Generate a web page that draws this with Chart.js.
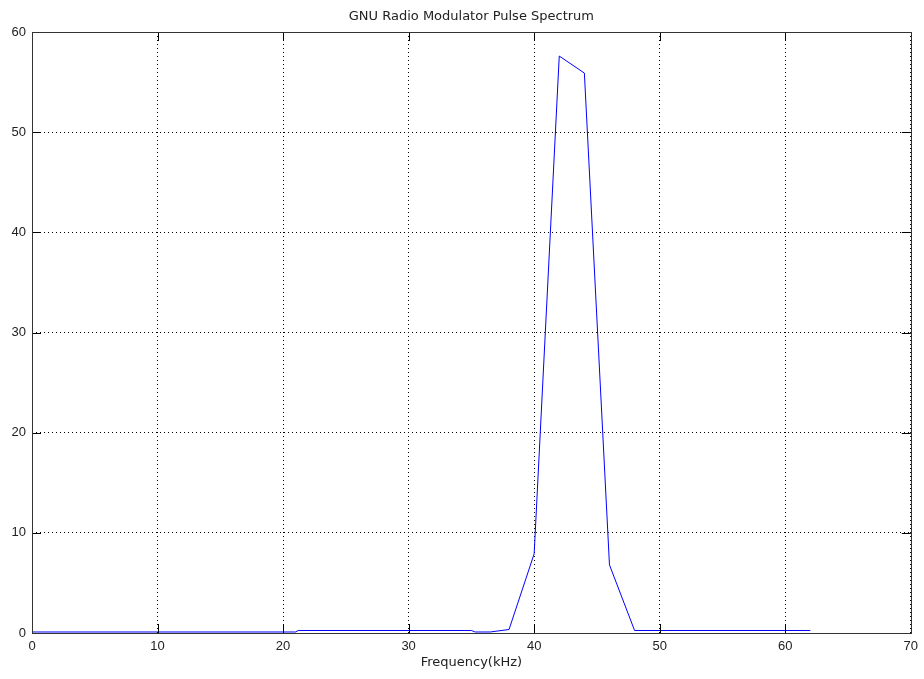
<!DOCTYPE html>
<html>
<head>
<meta charset="utf-8">
<title>GNU Radio Modulator Pulse Spectrum</title>
<script src="https://cdn.jsdelivr.net/npm/chart.js@4"></script>
<style>
  html, body { margin: 0; padding: 0; background: #fff; }
  #wrap { width: 924px; height: 679px; }
</style>
</head>
<body>
<div id="wrap"><canvas id="spectrum"></canvas></div>
<script>
// spectrum samples: frequency (kHz) and magnitude
const freqKHz = [0, 21, 21.2, 35, 35.3, 36.5, 38, 40, 42, 44, 46, 48, 62];
const magnitude = [0.1, 0.1, 0.25, 0.25, 0.1, 0.1, 0.35, 7.9, 57.6, 55.9, 6.8, 0.25, 0.25];
const xTicks = [0, 10, 20, 30, 40, 50, 60, 70];
const yTicks = [0, 10, 20, 30, 40, 50, 60];

const points = freqKHz.map((f, i) => ({ x: f, y: magnitude[i] }));
const tickFont = { family: "Liberation Sans, Arial, sans-serif", size: 13 };
const textFont = { family: "DejaVu Sans, sans-serif", size: 13, weight: "normal" };

// axes box plus inward tick marks, matlab style
const axesBox = {
  id: "axesBox",
  afterDatasetsDraw(chart) {
    const { ctx, chartArea: a, scales } = chart;
    const len = 9;
    ctx.save();
    ctx.strokeStyle = "#000";
    ctx.lineWidth = 1;
    ctx.beginPath();
    xTicks.forEach(v => {
      const px = Math.round(scales.x.getPixelForValue(v)) + 0.5;
      ctx.moveTo(px, a.bottom); ctx.lineTo(px, a.bottom - len);
      ctx.moveTo(px, a.top); ctx.lineTo(px, a.top + len);
    });
    yTicks.forEach(v => {
      const py = Math.round(scales.y.getPixelForValue(v)) + 0.5;
      ctx.moveTo(a.left, py); ctx.lineTo(a.left + len, py);
      ctx.moveTo(a.right, py); ctx.lineTo(a.right - len, py);
    });
    ctx.stroke();
    ctx.strokeStyle = "#333";
    ctx.strokeRect(Math.round(a.left) + 0.5, Math.round(a.top) + 0.5,
      Math.round(a.right - a.left), Math.round(a.bottom - a.top));
    ctx.restore();
  }
};

new Chart(document.getElementById("spectrum"), {
  type: "line",
  data: {
    datasets: [{
      data: points,
      borderColor: "#0000ff",
      borderWidth: 1,
      pointRadius: 0,
      tension: 0,
      fill: false
    }]
  },
  options: {
    responsive: true,
    maintainAspectRatio: false,
    animation: false,
    layout: { padding: { left: 0, right: 12, top: 0, bottom: 0 } },
    plugins: {
      legend: { display: false },
      tooltip: { enabled: false },
      title: {
        display: true,
        fullSize: false,
        text: "GNU Radio Modulator Pulse Spectrum",
        color: "#222",
        font: textFont,
        padding: { top: 8.7, bottom: 7.7 }
      }
    },
    scales: {
      x: {
        type: "linear",
        min: 0,
        max: 70,
        afterBuildTicks: s => { s.ticks = xTicks.map(v => ({ value: v })); },
        afterFit: s => { s.height = 46; },
        grid: { color: "#000", lineWidth: 1, drawTicks: false },
        border: { display: false, dash: [1, 3] },
        ticks: { color: "#222", font: tickFont, padding: 6, maxRotation: 0 },
        title: {
          display: true,
          text: "Frequency(kHz)",
          color: "#222",
          font: textFont,
          padding: { top: 8.2, bottom: 8.2 }
        }
      },
      y: {
        min: 0,
        max: 60,
        afterBuildTicks: s => { s.ticks = yTicks.map(v => ({ value: v })); },
        afterFit: s => { s.width = 32; },
        grid: { color: "#000", lineWidth: 1, drawTicks: false },
        border: { display: false, dash: [1, 3] },
        ticks: { color: "#222", font: tickFont, padding: 6 }
      }
    }
  },
  plugins: [axesBox]
});
</script>
</body>
</html>
